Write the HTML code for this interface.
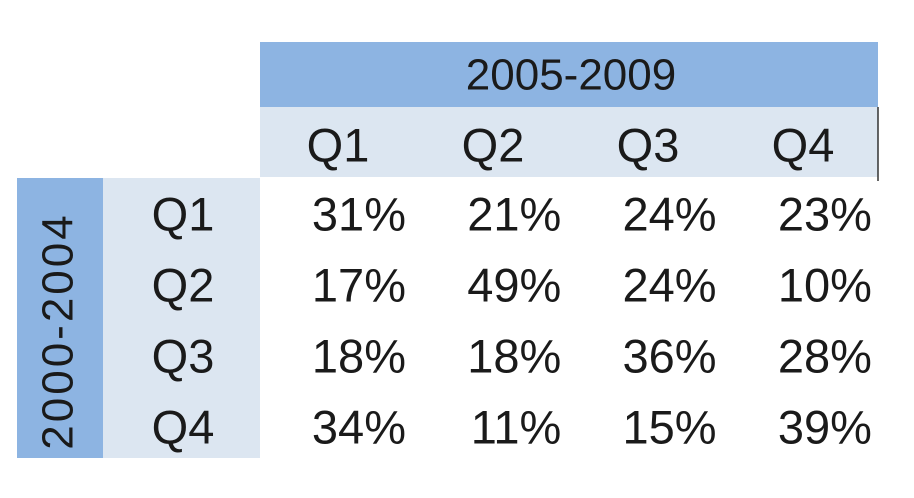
<!DOCTYPE html>
<html><head><meta charset="utf-8"><style>
html,body{margin:0;padding:0;background:#fff;width:914px;height:498px;overflow:hidden}
svg{display:block}
text{font-family:"Liberation Sans",sans-serif;fill:#1a1a1a}
</style></head><body>
<svg id="chart" width="914" height="498">
  <rect x="260" y="42" width="618" height="65" fill="#8db4e2"/>
  <rect x="260" y="107" width="618" height="70" fill="#dce6f1"/>
  <line x1="878" y1="107" x2="878" y2="181" stroke="#333" stroke-width="1.5"/>
  <rect x="17" y="178" width="86" height="280" fill="#8db4e2"/>
  <rect x="103" y="178" width="157" height="280" fill="#dce6f1"/>
  <text x="571" y="75" font-size="44" text-anchor="middle" dominant-baseline="central">2005-2009</text>
  <text x="58" y="331" font-size="44" letter-spacing="3" text-anchor="middle" dominant-baseline="central" transform="rotate(-90 58 331)">2000-2004</text>
  <g id="cells"></g>
</svg>
<script>
const colLabels = ["Q1","Q2","Q3","Q4"];
const rowLabels = ["Q1","Q2","Q3","Q4"];
const row1 = [31,21,24,23];
const row2 = [17,49,24,10];
const row3 = [18,18,36,28];
const row4 = [34,11,15,39];
const rows = [row1,row2,row3,row4];
const NS = "http://www.w3.org/2000/svg";
const g = document.getElementById("cells");
const colCenter = i => 338 + i*155;
const colRight = i => 406 + i*155.3;
const rowCenter = i => 214 + i*71;
function txt(x,y,s,anchor){
  const t = document.createElementNS(NS,"text");
  t.setAttribute("x",x); t.setAttribute("y",y);
  t.setAttribute("font-size","47");
  t.setAttribute("text-anchor",anchor);
  t.setAttribute("dominant-baseline","central");
  t.textContent = s; g.appendChild(t); return t;
}
colLabels.forEach((c,i)=>{
  const t = txt(colCenter(i),145,c,"middle");
  
  
});
rowLabels.forEach((r,i)=>{
  const t = txt(183,rowCenter(i),r,"middle");
  
  
});
rows.forEach((vals,ri)=>{
  vals.forEach((v,ci)=>{
    const t = txt(colRight(ci),rowCenter(ri),v+"%","end");
    
    
  });
});
</script>
</body></html>
